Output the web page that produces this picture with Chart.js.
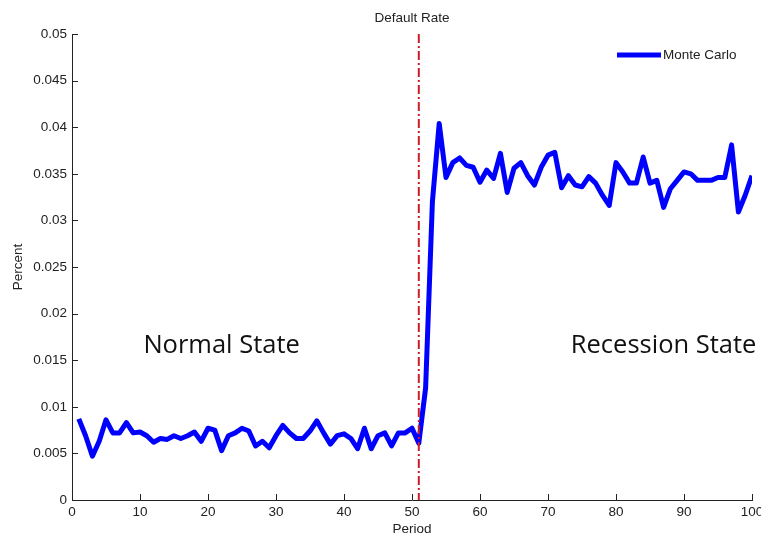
<!DOCTYPE html>
<html>
<head>
<meta charset="utf-8">
<script src="https://cdn.jsdelivr.net/npm/chart.js@4.4.0/dist/chart.umd.min.js"></script>
<style>
  html, body { margin: 0; padding: 0; background: #fff; }
  #wrap { width: 761px; height: 537px; }
</style>
</head>
<body>
<div id="wrap"><canvas id="chart" width="761" height="537"></canvas></div>
<script>
// values, period 1..100
const periods = Array.from({ length: 100 }, (_, i) => i + 1);
const monteCarlo = [
  0.0087, 0.0069, 0.0047, 0.0063, 0.0086, 0.0072, 0.0072, 0.0083, 0.0072, 0.0073,
  0.0069, 0.0062, 0.0066, 0.0065, 0.0069, 0.0066, 0.0069, 0.0073, 0.0063, 0.0077,
  0.0075, 0.0053, 0.0069, 0.0072, 0.0077, 0.0074, 0.0058, 0.0063, 0.0056, 0.0069,
  0.0080, 0.0072, 0.0066, 0.0066, 0.0074, 0.0085, 0.0072, 0.0060, 0.0069, 0.0071,
  0.0066, 0.0055, 0.0077, 0.0055, 0.0069, 0.0072, 0.0058, 0.0072, 0.0072, 0.0077,
  0.0061, 0.0120, 0.0320, 0.0404, 0.0346, 0.0362, 0.0367, 0.0359, 0.0357, 0.0341,
  0.0354, 0.0345, 0.0372, 0.0330, 0.0356, 0.0362, 0.0348, 0.0338, 0.0357, 0.0370,
  0.0373, 0.0335, 0.0348, 0.0338, 0.0336, 0.0347, 0.0340, 0.0327, 0.0316, 0.0362,
  0.0352, 0.0340, 0.0340, 0.0368, 0.0340, 0.0343, 0.0314, 0.0334, 0.0343, 0.0352,
  0.0350, 0.0343, 0.0343, 0.0343, 0.0346, 0.0346, 0.0381, 0.0309, 0.0327, 0.0348
];
const xTicks = [0, 10, 20, 30, 40, 50, 60, 70, 80, 90, 100];
const yTicks = [0, 0.005, 0.01, 0.015, 0.02, 0.025, 0.03, 0.035, 0.04, 0.045, 0.05];
const switchPeriod = 51;
const stateLabels = [
  { text: "Normal State", x: 22, y: 0.0165 },
  { text: "Recession State", x: 87, y: 0.0165 }
];

const tickFont = { family: "'Liberation Sans', Arial, sans-serif", size: 13.5 };

// matlab-like overlay: inward ticks, red switch line, state text, legend, title
const overlay = {
  id: "overlay",
  afterDatasetsDraw(chart) {
    const { ctx, chartArea: a, scales: { x, y } } = chart;
    ctx.save();

    // inward ticks
    ctx.strokeStyle = "#222";
    ctx.lineWidth = 1;
    ctx.beginPath();
    xTicks.forEach((t) => {
      const px = Math.round(x.getPixelForValue(t)) + 0.5;
      ctx.moveTo(px, a.bottom);
      ctx.lineTo(px, a.bottom - 6);
    });
    yTicks.forEach((t) => {
      const py = Math.round(y.getPixelForValue(t)) + 0.5;
      ctx.moveTo(a.left, py);
      ctx.lineTo(a.left + 6, py);
    });
    ctx.stroke();

    // dash-dot switch line
    const sx = x.getPixelForValue(switchPeriod);
    ctx.strokeStyle = "#cc1f28";
    ctx.lineWidth = 2;
    ctx.setLineDash([9, 3, 2, 3]);
    ctx.beginPath();
    ctx.moveTo(sx, a.top);
    ctx.lineTo(sx, a.bottom);
    ctx.stroke();
    ctx.setLineDash([]);

    // state labels
    ctx.fillStyle = "#111";
    ctx.font = "25.5px 'Open Sans', 'Noto Sans', sans-serif";
    ctx.textAlign = "center";
    ctx.textBaseline = "middle";
    stateLabels.forEach((s) => {
      ctx.fillText(s.text, x.getPixelForValue(s.x), y.getPixelForValue(s.y));
    });

    // legend
    ctx.strokeStyle = "#0000ff";
    ctx.lineWidth = 5;
    ctx.beginPath();
    ctx.moveTo(617, 55);
    ctx.lineTo(661, 55);
    ctx.stroke();
    ctx.fillStyle = "#222";
    ctx.font = "13.5px 'Liberation Sans', Arial, sans-serif";
    ctx.textAlign = "left";
    ctx.fillText(chart.data.datasets[0].label, 663, 55);

    // title
    ctx.textAlign = "center";
    ctx.fillText("Default Rate", (a.left + a.right) / 2, 18);

    ctx.restore();
  }
};

new Chart(document.getElementById("chart"), {
  type: "line",
  data: {
    labels: periods,
    datasets: [
      {
        label: "Monte Carlo",
        data: periods.map((p, i) => ({ x: p, y: monteCarlo[i] })),
        borderColor: "#0000ff",
        backgroundColor: "#0000ff",
        borderWidth: 5,
        pointRadius: 0,
        tension: 0,
        borderJoinStyle: "round",
        fill: false,
      },
    ],
  },
  options: {
    responsive: false,
    animation: false,
    layout: { padding: { top: 34, right: 9, left: 0, bottom: 0 } },
    plugins: {
      legend: { display: false },
      tooltip: { enabled: false },
    },
    scales: {
      x: {
        type: "linear",
        min: 0,
        max: 100,
        afterFit: (s) => {
          s.height = 37;
          s.paddingLeft = 0;
          s.paddingRight = 0;
        },
        afterBuildTicks: (s) => { s.ticks = xTicks.map((v) => ({ value: v })); },
        grid: { display: false, drawTicks: false },
        border: { display: true, color: "#222", width: 1 },
        ticks: { font: tickFont, color: "#222", padding: 4, maxRotation: 0 },
        title: {
          display: true,
          text: "Period",
          font: tickFont,
          color: "#222",
          padding: { top: 0, bottom: 0 },
        },
      },
      y: {
        min: 0,
        max: 0.05,
        afterFit: (s) => {
          s.width = 72;
          s.paddingTop = 0;
          s.paddingBottom = 0;
        },
        afterBuildTicks: (s) => { s.ticks = yTicks.map((v) => ({ value: v })); },
        grid: { display: false, drawTicks: false },
        border: { display: true, color: "#222", width: 1 },
        ticks: {
          font: tickFont,
          color: "#222",
          padding: 5,
          callback: (v) => String(Number(v.toFixed(3))),
        },
        title: {
          display: true,
          text: "Percent",
          font: tickFont,
          color: "#222",
          padding: { top: 10, bottom: 0 },
        },
      },
    },
  },
  plugins: [overlay],
});
</script>
</body>
</html>
